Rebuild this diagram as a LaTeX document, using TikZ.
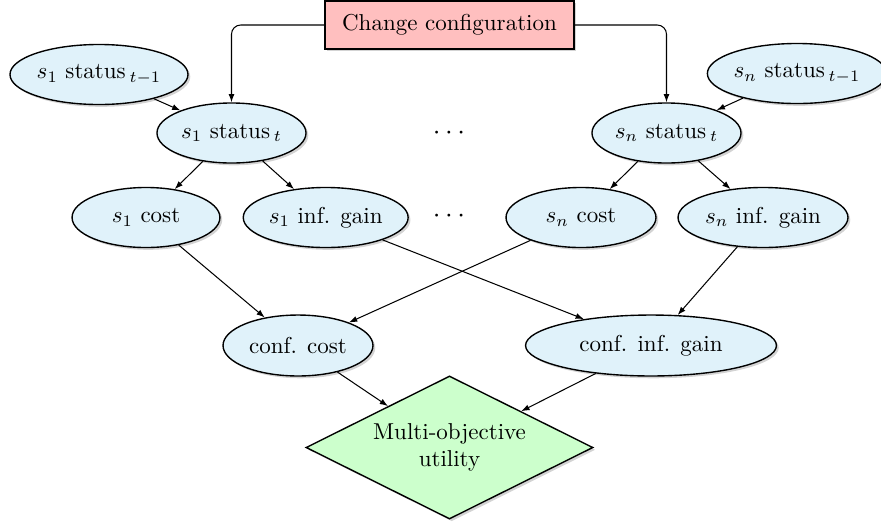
\documentclass[tikz,border=0pt]{standalone}
\usetikzlibrary{shapes.geometric,shadows,arrows.meta}
\definecolor{nodeblue}{RGB}{224,242,250}
\definecolor{cfgred}{RGB}{255,191,191}
\definecolor{utilgreen}{RGB}{204,255,204}
\begin{document}
\begin{tikzpicture}[x=0.4348pt,y=-0.4348pt,
  softshadow/.style={drop shadow={shadow xshift=1pt,shadow yshift=-1pt,opacity=0.35}},
  var/.style={ellipse,draw,line width=0.6pt,fill=nodeblue,softshadow,inner sep=0pt,minimum height=26.1pt},
  cfg/.style={rectangle,draw,line width=0.6pt,fill=cfgred,softshadow,inner sep=0pt,minimum width=108.3pt,minimum height=20.9pt},
  util/.style={diamond,draw,line width=0.6pt,fill=utilgreen,softshadow,align=center,inner sep=0pt,aspect=2,minimum width=124.8pt,minimum height=62.2pt},
  etc/.style={font=\large},
  link/.style={-{Latex[length=3.6pt,width=2.6pt]},line width=0.45pt}]
\useasboundingbox (0,0) rectangle (881,525);

% configuration change at the top
\node[cfg] (cc) at (449.5,25) {Change configuration};

% previous status of the sensors
\node[var,minimum width=77.4pt] (s1p) at (99,74.5) {$s_1$ status\,$_{t-1}$};
\node[var,minimum width=77.4pt] (snp) at (797,73.5) {$s_n$ status\,$_{t-1}$};

% current status
\node[var,minimum width=64.8pt] (s1t) at (231.5,133) {$s_1$ status\,$_{t}$};
\node[var,minimum width=64.8pt] (snt) at (666.5,133) {$s_n$ status\,$_{t}$};
\node[etc] (dotsa) at (449,133) {$\cdots$};

% per-sensor cost and information gain
\node[var,minimum width=64.3pt] (s1c) at (146,217.5) {$s_1$ cost};
\node[var,minimum width=71.7pt] (s1g) at (325.7,217.5) {$s_1$ inf. gain};
\node[etc] (dotsb) at (449,216) {$\cdots$};
\node[var,minimum width=65.2pt] (snc) at (581,217.5) {$s_n$ cost};
\node[var,minimum width=73.9pt] (sng) at (763,217.5) {$s_n$ inf. gain};

% aggregated values
\node[var,minimum width=65.2pt,minimum height=26.5pt] (cc2) at (298,345.5) {conf. cost};
\node[var,minimum width=109.1pt,minimum height=26.5pt] (cg) at (651,345.5) {conf. inf. gain};

% utility
\node[util] (mu) at (449.5,447.5) {Multi-objective\\utility};

% connectors
\draw[link,rounded corners=4pt] (cc.west) -| (s1t.north);
\draw[link,rounded corners=4pt] (cc.east) -| (snt.north);
\draw[link] (s1p) -- (s1t);
\draw[link] (snp) -- (snt);
\draw[link] (s1t) -- (s1c);
\draw[link] (s1t) -- (s1g);
\draw[link] (snt) -- (snc);
\draw[link] (snt) -- (sng);
\draw[link] (s1c) -- (cc2);
\draw[link] (snc) -- (cc2);
\draw[link] (s1g) -- (cg);
\draw[link] (sng) -- (cg);
\draw[link] (cc2) -- (mu);
\draw[link] (cg) -- (mu);
\end{tikzpicture}
\end{document}
